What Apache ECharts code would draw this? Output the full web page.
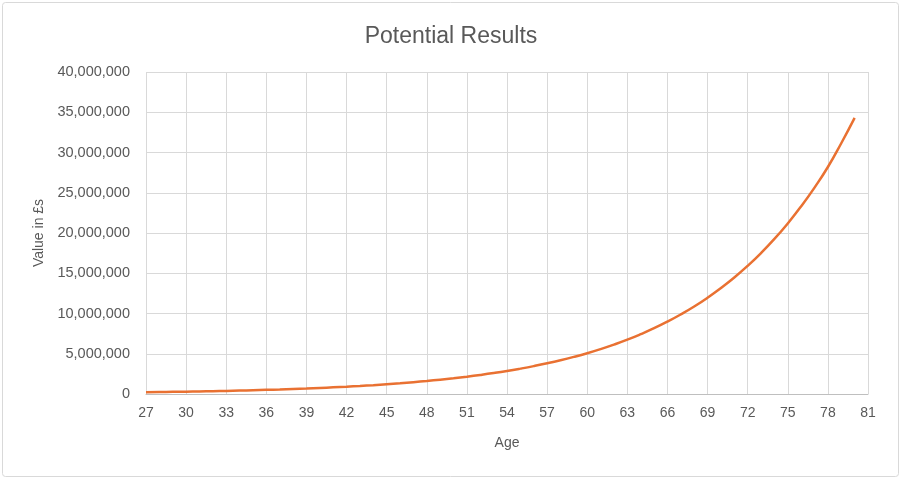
<!DOCTYPE html>
<html>
<head>
<meta charset="utf-8">
<script src="https://cdn.jsdelivr.net/npm/echarts@6/dist/echarts.min.js"></script>
<style>
  html, body { margin: 0; padding: 0; background: #fff; }
  #chart { width: 902px; height: 480px; }
</style>
</head>
<body>
<div id="chart"></div>
<script>
// ages on the x axis, one point per year
const ages = [
  27, 28, 29, 30, 31, 32, 33, 34, 35, 36, 37, 38, 39, 40, 41, 42, 43, 44,
  45, 46, 47, 48, 49, 50, 51, 52, 53, 54, 55, 56, 57, 58, 59, 60, 61, 62,
  63, 64, 65, 66, 67, 68, 69, 70, 71, 72, 73, 74, 75, 76, 77, 78, 79, 80
];
// value in £s
const values = [
  220000, 240000, 265000, 290000, 320000, 350000, 385000, 425000, 470000,
  515000, 565000, 625000, 685000, 755000, 830000, 910000, 1000000, 1100000,
  1215000, 1335000, 1470000, 1615000, 1780000, 1955000, 2150000, 2365000, 2600000,
  2860000, 3150000, 3465000, 3810000, 4190000, 4610000, 5070000, 5580000, 6140000,
  6750000, 7430000, 8170000, 8990000, 9890000, 10870000, 11960000, 13160000, 14470000,
  15920000, 17510000, 19260000, 21190000, 23310000, 25640000, 28200000, 31150000, 34300000
];

const textColor = "#595959";
const font = "Liberation Sans";

const chart = echarts.init(document.getElementById("chart"));

chart.setOption({
  animation: false,
  backgroundColor: "#fff",
  graphic: [{
    type: "rect",
    shape: { x: 2.5, y: 2.5, width: 896, height: 474, r: 3 },
    style: { fill: "none", stroke: "#d9d9d9", lineWidth: 1 },
    silent: true
  }],
  title: {
    text: "Potential Results",
    left: "center",
    top: 20,
    textStyle: { fontFamily: font, fontSize: 23, fontWeight: "normal", color: textColor }
  },
  grid: { left: 146, right: 34, top: 72, bottom: 86, containLabel: false },
  xAxis: {
    type: "value",
    min: 27,
    max: 81,
    interval: 3,
    name: "Age",
    nameLocation: "middle",
    nameGap: 42,
    nameTextStyle: { fontFamily: font, fontSize: 14, color: textColor },
    axisLine: { show: true, lineStyle: { color: "#bfbfbf", width: 1 } },
    axisTick: { show: false },
    axisLabel: { fontFamily: font, fontSize: 14, color: textColor, margin: 12 },
    splitLine: { show: true, lineStyle: { color: "#d9d9d9", width: 1 } }
  },
  yAxis: {
    type: "value",
    min: 0,
    max: 40000000,
    interval: 5000000,
    name: "Value in £s",
    nameLocation: "middle",
    nameGap: 100,
    nameRotate: 90,
    nameTextStyle: { fontFamily: font, fontSize: 14, color: textColor },
    axisLine: { show: false },
    axisTick: { show: false },
    axisLabel: {
      fontFamily: font, fontSize: 14.5, color: textColor, margin: 16,
      formatter: (v) => v.toLocaleString("en-GB")
    },
    splitLine: { show: true, lineStyle: { color: "#d9d9d9", width: 1 } }
  },
  series: [{
    type: "line",
    data: ages.map((a, i) => [a, values[i]]),
    smooth: true,
    showSymbol: false,
    lineStyle: { color: "#E97132", width: 2.5 },
    itemStyle: { color: "#E97132" }
  }]
});
</script>
</body>
</html>
